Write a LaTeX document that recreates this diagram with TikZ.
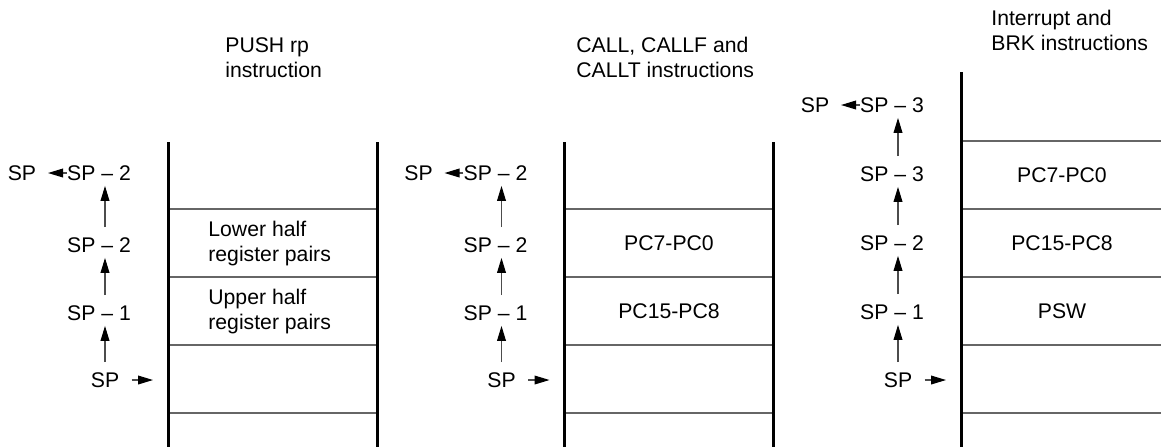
\documentclass[tikz,border=0pt]{standalone}
\usepackage{fontspec}
\setmainfont{Liberation Sans}
\usetikzlibrary{arrows.meta,positioning}

\begin{document}
\begin{tikzpicture}[
  x=0.5pt, y=-0.5pt,
  every node/.style={font=\fontsize{10.6}{12.5}\selectfont, inner sep=0pt},
  stackline/.style={line width=1.5pt},
  cellline/.style={line width=1pt, draw=black!60},
  spptr/.style={-{Triangle[length=7.5pt,width=4.4pt,color=black]}, line width=0.55pt, draw=black!70},
  uparrow/.style={spptr, shorten <=5pt, shorten >=2.5pt},
  title/.style={anchor=west, align=left},
  regtext/.style={align=left}
]
\useasboundingbox (0,0) rectangle (1161,447);

% PUSH rp
\coordinate (p1l) at (168,142);
\coordinate (p1r) at (377,142);
\foreach \y in {209,277,345,413}
  \draw[cellline] (168,\y) -- (377,\y);
\draw[stackline] (p1l) -- (168,447);
\draw[stackline] (p1r) -- (377,447);

\node[title] (push) at (225,57.5) {PUSH rp\\instruction};

\node (a1) at (22,173) {SP};
\node (a2) at (99,173) {SP \textendash{} 2};
\node (a3) at (99,245) {SP \textendash{} 2};
\node (a4) at (99,313) {SP \textendash{} 1};
\node (a5) at (105,380) {SP};

\node[regtext, anchor=west] (lowr) at (208,243.5) {Lower half\\register pairs};
\node[regtext, anchor=west] (uppr) at (208,311.5) {Upper half\\register pairs};

\draw[spptr, shorten >=5.75pt] (a2.west) -- (a1.east);
\draw[uparrow] (a5.north) -- (a5.north |- a4.south);
\draw[uparrow] (a4.north -| a5.north) -- (a5.north |- a3.south);
\draw[uparrow] (a3.north -| a5.north) -- (a5.north |- a2.south);
\draw[spptr, shorten <=6pt, shorten >=7.5pt] (a5.east) -- (a5.east -| p1l);

% CALL, CALLF, CALLT
\coordinate (p2l) at (564.5,142);
\coordinate (p2r) at (773.5,142);
\foreach \y in {209,277,345,413}
  \draw[cellline] (564.5,\y) -- (773.5,\y);
\draw[stackline] (p2l) -- (564.5,447);
\draw[stackline] (p2r) -- (773.5,447);

\node[title] (call) at (576,57.5) {CALL, CALLF and\\CALLT instructions};

\node (b1) at (418.5,173) {SP};
\node (b2) at (495.5,173) {SP \textendash{} 2};
\node (b3) at (495.5,245) {SP \textendash{} 2};
\node (b4) at (495.5,313) {SP \textendash{} 1};
\node (b5) at (501.5,380) {SP};

\node (pclo2) at (669,243) {PC7-PC0};
\node (pchi2) at (669,311) {PC15-PC8};

\draw[spptr, shorten >=5.75pt] (b2.west) -- (b1.east);
\draw[uparrow] (b5.north) -- (b5.north |- b4.south);
\draw[uparrow] (b4.north -| b5.north) -- (b5.north |- b3.south);
\draw[uparrow] (b3.north -| b5.north) -- (b5.north |- b2.south);
\draw[spptr, shorten <=6pt, shorten >=7.5pt] (b5.east) -- (b5.east -| p2l);

% Interrupt, BRK
\coordinate (p3l) at (961,72);
\foreach \y in {141,209,277,345,413}
  \draw[cellline] (961,\y) -- (1161,\y);
\draw[stackline] (p3l) -- (961,447);

\node[title] (brk) at (991,30.5) {Interrupt and\\BRK instructions};

\node (c1) at (815,105) {SP};
\node (c2) at (892,105) {SP \textendash{} 3};
\node (c3) at (892,174) {SP \textendash{} 3};
\node (c4) at (892,243) {SP \textendash{} 2};
\node (c5) at (892,312) {SP \textendash{} 1};
\node (c6) at (898,380) {SP};

\node (pclo3) at (1062,175) {PC7-PC0};
\node (pchi3) at (1062,243) {PC15-PC8};
\node (psw) at (1062,311) {PSW};

\draw[spptr, shorten >=5.75pt] (c2.west) -- (c1.east);
\draw[uparrow] (c6.north) -- (c6.north |- c5.south);
\draw[uparrow] (c5.north -| c6.north) -- (c6.north |- c4.south);
\draw[uparrow] (c4.north -| c6.north) -- (c6.north |- c3.south);
\draw[uparrow] (c3.north -| c6.north) -- (c6.north |- c2.south);
\draw[spptr, shorten <=6pt, shorten >=7.5pt] (c6.east) -- (c6.east -| p3l);

\end{tikzpicture}
\end{document}
